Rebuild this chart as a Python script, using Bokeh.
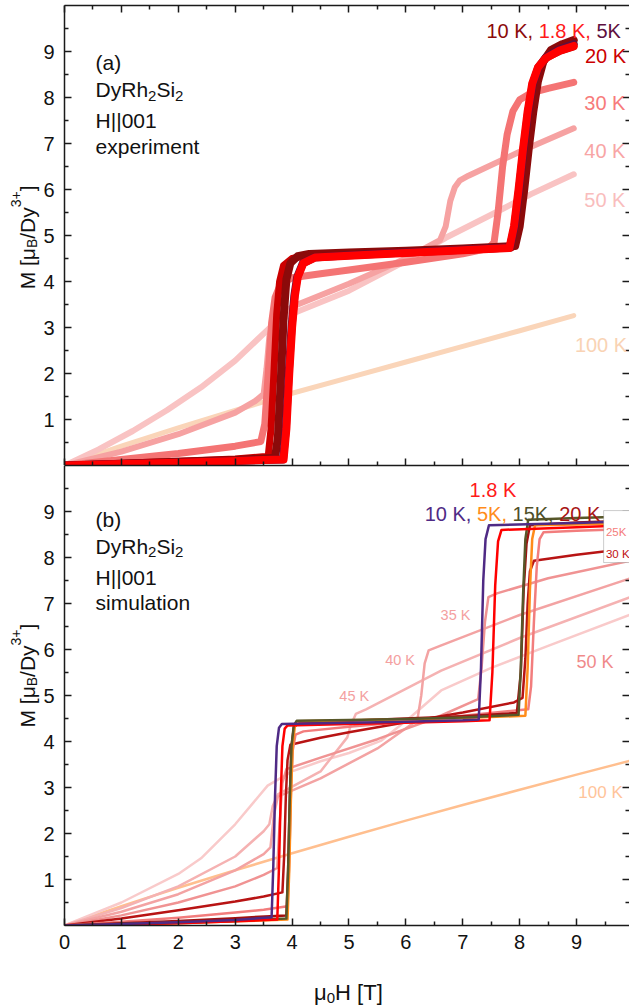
import math
from bokeh.plotting import figure
from bokeh.models import FixedTicker, LinearAxis, Range1d, Label, BoxAnnotation
from bokeh.layouts import column, row
from bokeh.embed import file_html
from bokeh.resources import INLINE

FONT = "Liberation Sans"

# ---------------- data: panel (a) experiment ----------------
exp_H_100K = [0, 1, 2, 3, 4, 5, 6, 7, 8, 8.95]
exp_M_100K = [0, 0.42, 0.82, 1.2, 1.57, 1.91, 2.25, 2.59, 2.93, 3.26]

exp_H_50K = [0, 0.6, 1.2, 1.8, 2.4, 3.0, 3.4, 3.7, 4.0, 4.5, 5.0, 6.0, 6.7, 7.5, 8.2, 8.95]
exp_M_50K = [0, 0.35, 0.75, 1.2, 1.7, 2.28, 2.75, 3.1, 3.3, 3.55, 3.8, 4.45, 4.95, 5.45, 5.9, 6.33]

exp_H_40K = [0, 1, 2, 3, 3.35, 3.5, 3.55, 3.6, 3.65, 3.75, 4.0, 4.5, 5.0, 6.0, 6.6, 6.7, 6.78, 6.86, 6.95, 7.1, 8.0, 8.95]
exp_M_40K = [0, 0.3, 0.68, 1.15, 1.4, 1.55, 2.1, 2.8, 3.05, 3.2, 3.45, 3.7, 3.95, 4.5, 4.9, 5.2, 5.75, 6.05, 6.2, 6.3, 6.82, 7.33]

exp_H_30K = [0, 1, 2, 3, 3.45, 3.52, 3.58, 3.64, 3.7, 3.8, 4.0, 4.5, 5.0, 6.0, 7.0, 7.45, 7.55, 7.62, 7.7, 7.78, 7.88, 8.0, 8.2, 8.5, 8.95]
exp_M_30K = [0, 0.13, 0.26, 0.42, 0.52, 0.9, 2.0, 3.1, 3.65, 3.95, 4.08, 4.17, 4.25, 4.42, 4.6, 4.72, 4.85, 5.5, 6.5, 7.2, 7.7, 7.95, 8.1, 8.2, 8.33]

exp_H_20K = [0, 1, 2, 3, 3.58, 3.63, 3.68, 3.73, 3.78, 3.85, 4.0, 4.3, 5, 6, 7, 7.85, 7.93, 8.01, 8.09, 8.17, 8.25, 8.35, 8.48, 8.7, 8.95]
exp_M_20K = [0, 0.05, 0.09, 0.14, 0.2, 0.8, 2.0, 3.3, 4.0, 4.35, 4.5, 4.57, 4.6, 4.64, 4.68, 4.73, 5.2, 6.0, 6.9, 7.7, 8.3, 8.65, 8.87, 9.0, 9.1]

exp_H_10K = [0, 1, 2, 3, 3.7, 3.75, 3.8, 3.85, 3.9, 3.97, 4.1, 4.3, 5, 6, 7, 7.92, 8.0, 8.08, 8.16, 8.24, 8.32, 8.42, 8.55, 8.75, 8.95]
exp_M_10K = [0, 0.04, 0.08, 0.12, 0.17, 0.6, 1.8, 3.2, 4.05, 4.4, 4.55, 4.6, 4.63, 4.67, 4.72, 4.77, 5.2, 6.0, 6.9, 7.7, 8.35, 8.8, 9.03, 9.16, 9.25]

exp_H_5K = [0, 1, 2, 3, 3.84, 3.89, 3.94, 3.99, 4.04, 4.09, 4.19, 4.39, 5, 6, 7, 7.83, 7.91, 7.99, 8.07, 8.15, 8.23, 8.33, 8.46, 8.7, 8.95]
exp_M_5K = [0, 0.03, 0.06, 0.1, 0.13, 0.8, 2.0, 3.0, 3.7, 4.1, 4.4, 4.52, 4.57, 4.63, 4.69, 4.74, 5.2, 6.0, 6.9, 7.7, 8.3, 8.66, 8.87, 9.05, 9.16]

exp_H_1p8K = [0, 1, 2, 3, 3.85, 3.9, 3.95, 4.0, 4.05, 4.1, 4.2, 4.4, 5, 6, 7, 7.82, 7.9, 7.98, 8.06, 8.14, 8.22, 8.32, 8.45, 8.7, 8.95]
exp_M_1p8K = [0, 0.03, 0.06, 0.1, 0.13, 0.8, 2.0, 3.0, 3.7, 4.1, 4.4, 4.52, 4.56, 4.62, 4.68, 4.73, 5.2, 6.0, 6.9, 7.7, 8.3, 8.65, 8.85, 9.02, 9.12]

# ---------------- data: panel (b) simulation ----------------
sim_H_100K = [0, 1, 2, 3, 4, 5, 6, 7, 8, 9, 10]
sim_M_100K = [0, 0.42, 0.82, 1.2, 1.57, 1.93, 2.28, 2.62, 2.95, 3.28, 3.6]

sim_H_50K = [0, 1, 2, 2.4, 3, 3.57, 4, 4.5, 5, 5.57, 6.1, 6.62, 7.5, 8.5, 9.95]
sim_M_50K = [0, 0.5, 1.12, 1.46, 2.2, 3.04, 3.35, 3.57, 3.75, 4.02, 4.55, 5.11, 5.6, 6.08, 6.76]

sim_H_45K = [0, 1, 2, 3, 3.5, 3.6, 3.66, 3.75, 4.5, 4.97, 5.03, 5.12, 5.3, 6.62, 8, 9.95]
sim_M_45K = [0, 0.38, 0.85, 1.5, 2.05, 2.2, 2.6, 2.85, 3.35, 4.09, 4.35, 4.6, 4.7, 5.54, 6.25, 7.14]

sim_H_40K = [0, 1, 2, 3, 3.5, 3.62, 3.68, 3.75, 4.5, 5.5, 6.2, 6.27, 6.33, 6.4, 6.6, 8, 9.95]
sim_M_40K = [0, 0.3, 0.68, 1.2, 1.55, 1.7, 2.4, 2.8, 3.2, 3.85, 4.46, 5.0, 5.7, 5.98, 6.08, 6.75, 7.55]

sim_H_35K = [0, 1, 2, 3, 3.5, 3.74, 3.78, 3.83, 3.9, 4.5, 5.5, 6.5, 7.27, 7.33, 7.39, 7.45, 7.6, 8.5, 9.95]
sim_M_35K = [0, 0.22, 0.5, 0.85, 1.1, 1.25, 2.2, 3.1, 3.4, 3.65, 4.05, 4.5, 4.92, 5.6, 6.6, 7.14, 7.22, 7.55, 7.93]

sim_H_30K = [0, 1, 2, 3, 3.5, 3.83, 3.86, 3.89, 3.92, 3.97, 4.5, 5, 6, 7, 7.9, 8.05, 8.1, 8.14, 8.18, 8.25, 9, 9.95]
sim_M_30K = [0, 0.15, 0.33, 0.52, 0.63, 0.72, 1.5, 2.8, 3.6, 3.93, 4.08, 4.2, 4.42, 4.63, 4.85, 4.95, 5.8, 7.0, 7.7, 7.93, 8.06, 8.2]

sim_H_25K = [0, 1, 2, 3, 3.5, 3.92, 3.95, 3.98, 4.01, 4.06, 4.2, 5, 6, 7, 8.15, 8.2, 8.25, 8.3, 8.35, 8.42, 9, 9.95]
sim_M_25K = [0, 0.08, 0.17, 0.28, 0.34, 0.42, 1.4, 2.9, 3.8, 4.15, 4.22, 4.32, 4.43, 4.56, 4.7, 5.2, 6.6, 7.8, 8.4, 8.55, 8.58, 8.62]

sim_H_20K = [0, 1, 2, 3, 3.9, 3.93, 3.96, 3.99, 4.03, 4.1, 5, 6, 7, 7.95, 8.02, 8.07, 8.12, 8.18, 9, 9.95]
sim_M_20K = [0, 0.05, 0.1, 0.16, 0.22, 1.2, 2.8, 3.9, 4.3, 4.4, 4.45, 4.5, 4.55, 4.62, 5.5, 7.3, 8.3, 8.7, 8.76, 8.8]

sim_H_15K = [0, 1, 2, 3, 3.9, 3.93, 3.96, 3.99, 4.03, 4.08, 5, 6, 7, 7.98, 8.02, 8.06, 8.1, 8.15, 9, 9.95]
sim_M_15K = [0, 0.03, 0.06, 0.1, 0.15, 1.2, 2.8, 3.9, 4.35, 4.45, 4.47, 4.49, 4.52, 4.58, 5.6, 7.2, 8.4, 8.82, 8.86, 8.89]

sim_H_5K = [0, 1, 2, 3, 3.92, 3.95, 3.98, 4.01, 4.05, 4.1, 5, 6, 7, 8.1, 8.14, 8.18, 8.22, 8.27, 9, 9.95]
sim_M_5K = [0, 0.02, 0.05, 0.09, 0.13, 1.2, 2.8, 3.9, 4.35, 4.44, 4.46, 4.48, 4.51, 4.56, 5.6, 7.3, 8.4, 8.7, 8.72, 8.75]

sim_H_1p8K = [0, 1, 2, 3, 3.74, 3.77, 3.8, 3.83, 3.87, 3.92, 5, 6, 7, 7.47, 7.52, 7.57, 7.62, 7.68, 9, 9.95]
sim_M_1p8K = [0, 0.02, 0.05, 0.09, 0.13, 1.3, 2.8, 3.9, 4.28, 4.35, 4.38, 4.41, 4.44, 4.46, 5.5, 7.4, 8.35, 8.6, 8.66, 8.7]

sim_H_10K = [0, 1, 2, 3, 3.64, 3.67, 3.7, 3.73, 3.77, 3.82, 5, 6, 7, 7.28, 7.32, 7.36, 7.4, 7.46, 9, 9.95]
sim_M_10K = [0, 0.03, 0.07, 0.12, 0.18, 1.3, 2.8, 3.9, 4.3, 4.38, 4.41, 4.43, 4.46, 4.48, 5.6, 7.5, 8.4, 8.7, 8.75, 8.79]

# ticks
X_MAJOR = [0, 1, 2, 3, 4, 5, 6, 7, 8, 9, 10]
X_MINOR = [0.5, 1.5, 2.5, 3.5, 4.5, 5.5, 6.5, 7.5, 8.5, 9.5]
Y_MAJOR = [1, 2, 3, 4, 5, 6, 7, 8, 9]
Y_MINOR = [0.5, 1.5, 2.5, 3.5, 4.5, 5.5, 6.5, 7.5, 8.5, 9.5]

# approximate advance widths (em) of the sans font, for composing rich text
ADV = {'0': .556, '1': .556, '2': .556, '3': .556, '4': .556, '5': .556, '6': .556,
       '7': .556, '8': .556, '9': .556, ' ': .278, ',': .278, '.': .278, 'K': .667,
       'M': .833, '[': .278, ']': .278, 'μ': .576, 'B': .667, '/': .278, 'D': .722,
       'y': .5, '+': .584, 'R': .722, 'h': .556, 'S': .667, 'i': .222, 'H': .722, 'T': .611}

INK = "#111111"


def tw(s, size):
    return sum(ADV.get(c, 0.556) for c in s) * size


def style_axis(ax, labels, size="20px", standoff=10, ticks=True):
    ax.axis_line_color = "#1a1a1a"
    ax.axis_line_width = 1.5
    ax.major_tick_in = 7 if ticks else 0
    ax.major_tick_out = 0
    ax.minor_tick_in = 4 if ticks else 0
    ax.minor_tick_out = 0
    ax.major_tick_line_color = "#1a1a1a"
    ax.major_tick_line_width = 1.5
    ax.minor_tick_line_color = "#1a1a1a"
    ax.minor_tick_line_width = 1.5
    if labels:
        ax.major_label_text_font = FONT
        ax.major_label_text_font_size = size
        ax.major_label_text_color = INK
        ax.major_label_standoff = standoff
    else:
        ax.major_label_text_font_size = "1px"
        ax.major_label_text_color = None
        ax.major_label_standoff = 0


def blank_fig(width, height):
    """A figure whose frame is the whole canvas, measured in pixels (y downward)."""
    f = figure(width=width, height=height, x_range=Range1d(0, width), y_range=Range1d(height, 0),
               output_backend="svg", toolbar_location=None,
               x_axis_location=None, y_axis_location=None,
               min_border_left=0, min_border_right=0, min_border_top=0, min_border_bottom=0)
    f.outline_line_color = None
    f.grid.visible = False
    f.background_fill_color = "white"
    f.border_fill_color = "white"
    return f


def make_panel(height, top_border, bottom_border, x_labels, top_ticks):
    p = figure(width=589, height=height, x_range=Range1d(0, 9.93), y_range=Range1d(0, 10),
               output_backend="svg", toolbar_location=None,
               x_axis_location=None, y_axis_location=None,
               min_border_left=24, min_border_right=0,
               min_border_top=top_border, min_border_bottom=bottom_border)
    p.outline_line_color = None
    p.grid.visible = False
    p.background_fill_color = "white"
    p.border_fill_color = "white"

    yl = LinearAxis(ticker=FixedTicker(ticks=Y_MAJOR, minor_ticks=Y_MINOR))
    style_axis(yl, True, standoff=10)
    p.add_layout(yl, "left")

    yr = LinearAxis(ticker=FixedTicker(ticks=Y_MAJOR, minor_ticks=Y_MINOR))
    style_axis(yr, False)
    yr.axis_line_color = None
    p.add_layout(yr, "right")

    xb = LinearAxis(ticker=FixedTicker(ticks=X_MAJOR, minor_ticks=X_MINOR))
    style_axis(xb, x_labels, standoff=9)
    p.add_layout(xb, "below")

    xt = LinearAxis(ticker=FixedTicker(ticks=X_MAJOR, minor_ticks=X_MINOR))
    style_axis(xt, False, ticks=top_ticks)
    p.add_layout(xt, "above")
    return p


def add_label(p, x, y, text, color, size, dx=0, dy=0, angle=0):
    p.add_layout(Label(x=x, y=y, text=text, text_color=color, text_font=FONT,
                       text_font_size=f"{size}px", x_offset=dx, y_offset=dy,
                       angle=angle, text_align="left", text_baseline="alphabetic"))


def add_pieces(p, x, y, pieces):
    """pieces: (text, color, size, shift) laid out left to right"""
    off = 0.0
    for text, color, size, shift in pieces:
        add_label(p, x, y, text, color, size, dx=off, dy=shift)
        off += tw(text, size)


def ylabel_fig(height, center):
    f = blank_fig(40, height)
    # (text, size, baseline shift: negative = subscript, positive = superscript)
    pieces = [("M [μ", 21, 0), ("B", 14, -4), ("/Dy", 21, 0), ("3+", 14, 12), ("]", 21, 0)]
    total = sum(tw(t, s) for t, s, _ in pieces)
    y0 = center + total / 2
    off = 0.0
    for text, size, shift in pieces:
        # text reads bottom-to-top: "up" in the text is toward the left of the page
        add_label(f, 27, y0, text, INK, size, dx=-shift, dy=off, angle=math.pi / 2)
        off += tw(text, size)
    return f


def add_header(p, ys, tag, word):
    x0 = 0.546
    add_label(p, x0, ys[0], tag, INK, 21)
    add_pieces(p, x0, ys[1], [("DyRh", INK, 21, 0), ("2", INK, 15, -6),
                              ("Si", INK, 21, 0), ("2", INK, 15, -6)])
    add_label(p, x0, ys[2], "H||001", INK, 21)
    add_label(p, x0, ys[3], word, INK, 21)


# ================= panel (a) =================
pa = make_panel(465, 5, 0, False, True)
top_curves = [
    (exp_H_100K, exp_M_100K, "#FAD5B9", 5),
    (exp_H_50K, exp_M_50K, "#F9C3C3", 6),
    (exp_H_40K, exp_M_40K, "#F6A2A2", 6),
    (exp_H_30K, exp_M_30K, "#F47474", 7),
    (exp_H_20K, exp_M_20K, "#CC0000", 7),
    (exp_H_10K, exp_M_10K, "#8B0A0A", 8),
    (exp_H_5K, exp_M_5K, "#5E0F40", 8),
    (exp_H_1p8K, exp_M_1p8K, "#FF0000", 8),
]
for h, m, c, w in top_curves:
    pa.line(h, m, line_color=c, line_width=w, line_cap="round", line_join="round")

add_header(pa, [8.77, 8.17, 7.5, 6.94], "(a)", "experiment")
add_pieces(pa, 7.415, 9.44, [("10 K, ", "#8B0A0A", 20, 0), ("1.8 K, ", "#FF1A1A", 20, 0),
                             ("5K", "#5E0F40", 20, 0)])
add_label(pa, 9.146, 8.91, "20 K", "#CC0000", 20)
add_label(pa, 9.135, 7.88, "30 K", "#F77B7B", 20)
add_label(pa, 9.135, 6.83, "40 K", "#F8A5A5", 20)
add_label(pa, 9.135, 5.78, "50 K", "#F9BDBD", 20)
add_label(pa, 8.97, 2.62, "100 K", "#F9D3B4", 20)

# ================= panel (b) =================
pb = make_panel(495, 0, 35, True, False)
bot_curves = [
    (sim_H_100K, sim_M_100K, "#FFBF8F"),
    (sim_H_50K, sim_M_50K, "#F9CACA"),
    (sim_H_45K, sim_M_45K, "#F5B2B2"),
    (sim_H_40K, sim_M_40K, "#F3A3A3"),
    (sim_H_35K, sim_M_35K, "#F09393"),
    (sim_H_30K, sim_M_30K, "#B81414"),
    (sim_H_25K, sim_M_25K, "#F27D7D"),
    (sim_H_20K, sim_M_20K, "#A01010"),
    (sim_H_5K, sim_M_5K, "#FF8C1A"),
    (sim_H_15K, sim_M_15K, "#575729"),
    (sim_H_1p8K, sim_M_1p8K, "#FF0000"),
    (sim_H_10K, sim_M_10K, "#4F2A85"),
]
for h, m, c in bot_curves:
    pb.line(h, m, line_color=c, line_width=2.5, line_join="round")

add_header(pb, [8.83, 8.24, 7.57, 7.02], "(b)", "simulation")
add_label(pb, 7.12, 9.47, "1.8 K", "#FF1A1A", 20)
add_pieces(pb, 6.33, 8.94, [("10 K, ", "#4F2A85", 20, 0), ("5K, ", "#FF8C1A", 20, 0),
                            ("15K, ", "#4F4F28", 20, 0), ("20 K", "#A81414", 20, 0)])
pb.add_layout(BoxAnnotation(left=9.475, right=10.5, bottom=7.89, top=9.02,
                            fill_color="white", fill_alpha=1.0,
                            line_color="#555555", line_width=1))
add_label(pb, 9.516, 8.565, "25K", "#F47C7C", 11.5)
add_label(pb, 9.516, 8.08, "30 K", "#C01010", 11.5)
add_label(pb, 6.61, 6.76, "35 K", "#F4A0A0", 14.5)
add_label(pb, 5.636, 5.78, "40 K", "#F4A0A0", 14.5)
add_label(pb, 4.83, 4.99, "45 K", "#F4A0A0", 14.5)
add_label(pb, 9.0, 5.73, "50 K", "#F08A8A", 18)
add_label(pb, 9.03, 2.89, "100 K", "#FFC49A", 17)

# ================= axis titles =================
ya = ylabel_fig(465, 235)
yb = ylabel_fig(495, 230)

xt = blank_fig(629, 47)
add_pieces(xt, 313.6, 32, [("μ", INK, 22, 0), ("0", INK, 15, -5), ("H [T]", INK, 22, 0)])

layout = column(row(ya, pa, spacing=0), row(yb, pb, spacing=0), xt, spacing=0)
open("out.html", "w").write(file_html(layout, INLINE))
